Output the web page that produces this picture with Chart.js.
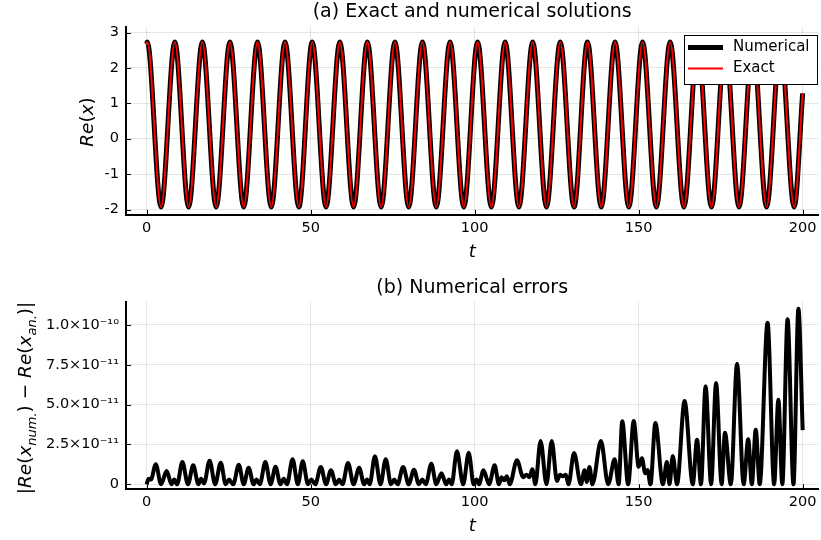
<!DOCTYPE html>
<html>
<head>
<meta charset="utf-8">
<script src="https://cdn.jsdelivr.net/npm/chart.js@4.4.1/dist/chart.umd.min.js"></script>
<style>
  html, body { margin: 0; padding: 0; background: #fff; overflow: hidden; }
  #wrap { position: relative; width: 821px; height: 540px; }
  canvas { position: absolute; left: 0; }
</style>
</head>
<body>
<div id="wrap">
  <canvas id="solCanvas" width="821" height="270" style="top:0"></canvas>
  <canvas id="errCanvas" width="821" height="270" style="top:270px"></canvas>
</div>
<script>
// ---- data -------------------------------------------------------------
// Turning points of Re(x(t)): start, alternating maxima / minima, end value.
// Numerical and exact solutions agree to ~1e-10, so both use these points.
const tRe = [0, 0.2, 4.4, 8.6, 12.8, 17.0, 21.2, 25.4, 29.6, 33.8, 38.0, 42.2,
  46.4, 50.5, 54.7, 58.9, 63.1, 67.3, 71.5, 75.7, 79.9, 84.1, 88.3, 92.5, 96.7,
  100.9, 105.1, 109.3, 113.5, 117.7, 121.9, 126.1, 130.3, 134.4, 138.6, 142.8,
  147.0, 151.2, 155.4, 159.6, 163.8, 168.0, 172.2, 176.4, 180.6, 184.8, 189.0,
  193.2, 197.4, 200];
const reNumerical = [2.68, 2.73, -1.93, 2.73, -1.93, 2.73, -1.93, 2.73, -1.93,
  2.73, -1.93, 2.73, -1.93, 2.73, -1.93, 2.73, -1.93, 2.73, -1.93, 2.73, -1.93,
  2.73, -1.93, 2.73, -1.93, 2.73, -1.93, 2.73, -1.93, 2.73, -1.93, 2.73, -1.93,
  2.73, -1.93, 2.73, -1.93, 2.73, -1.93, 2.73, -1.93, 2.73, -1.93, 2.73, -1.93,
  2.73, -1.93, 2.73, -1.93, 1.28];
const reExact = reNumerical.slice();

// |Re(x_num) - Re(x_an)| in units of 1e-11
const tErr = [0, 0.6, 1.3, 2.8, 4.4, 6.1, 7.6, 8.4, 9.3, 10.9, 12.6, 14.2, 15.8,
  16.6, 17.5, 19.2, 20.9, 22.6, 24.1, 25.1, 26.4, 28.1, 29.6, 31.1, 32.6, 33.5,
  34.5, 36.2, 37.8, 39.3, 40.8, 41.8, 42.8, 44.5, 46.1, 47.6, 49.2, 50.2, 51.4,
  53.1, 54.7, 56.2, 57.7, 58.7, 59.7, 61.4, 63.1, 64.8, 66.3, 67.2, 68.0, 69.6,
  71.3, 72.9, 74.5, 75.5, 76.5, 78.2, 79.9, 81.5, 83.0, 84.0, 85.1, 86.8, 88.3,
  89.9, 91.3, 92.2, 93.0, 94.6, 96.5, 98.2, 99.7, 100.6, 101.3, 102.7, 104.4,
  106.1, 107.4, 108.2, 109.0, 109.8, 110.7, 112.9, 114.8, 115.8, 116.7, 117.6,
  118.5, 120.1, 121.9, 123.5, 125.1, 126.0, 126.9, 127.8, 128.6, 130.3, 132.4,
  133.5, 134.2, 135.0, 135.9, 138.5, 140.7, 142.7, 143.9, 145.0, 146.8, 148.5,
  150.0, 151.0, 152.0, 152.7, 153.6, 155.1, 157.4, 158.6, 159.4, 160.4, 161.7,
  164.0, 166.5, 167.8, 169.0, 170.4, 172.1, 173.6, 175.3, 176.3, 178.1, 180.0,
  182.0, 183.4, 184.5, 185.7, 186.9, 189.3, 191.3, 192.6, 193.8, 195.4, 197.2,
  198.7, 200];
const errE11 = [0, 0.35, 0.3, 1.26, 0, 0.83, 0, 0.3, 0, 1.40, 0, 1.19, 0,
  0.35, 0.05, 1.48, 0, 1.36, 0, 0.3, 0, 1.23, 0, 1.04, 0, 0.3,
  0, 1.40, 0, 1.10, 0, 0.35, 0, 1.57, 0, 1.44, 0, 0.3, 0,
  1.09, 0, 0.88, 0, 0.3, 0, 1.34, 0, 1.04, 0, 0.3, 0, 1.76,
  0, 1.57, 0, 0.3, 0, 1.09, 0, 0.92, 0, 0.3, 0, 1.29, 0,
  0.7, 0, 0.3, 0, 2.07, 0, 1.98, 0, 0.3, 0, 0.88, 0,
  1.19, 0, 0.45, 0.25, 0.5, 0, 1.51, 0.45, 0.6, 0.45, 0.94,
  0, 2.72, 0, 2.72, 0.2, 0.6, 0.5, 0.6, 0, 1.96, 0,
  0.88, 0.15, 1.09, 0, 2.72, 0, 1.57, 0, 3.95, 0, 3.97,
  1.1, 1.63, 0.7, 0.9, 0, 3.85, 0, 1.4, 0, 1.78, 0,
  5.23, 0, 2.80, 0, 6.15, 0, 6.36, 0, 3.24, 0, 7.57,
  0, 2.82, 0, 3.43, 0, 10.14, 0, 5.31, 0, 10.36, 0,
  11.02, 3.4];

// axes
const tTicks = [0, 50, 100, 150, 200];
const tTickLabels = ['0', '50', '100', '150', '200'];
const reTicks = [-2, -1, 0, 1, 2, 3];
const reTickLabels = ['-2', '-1', '0', '1', '2', '3'];
const errTicks = [0, 2.5, 5, 7.5, 10];
const errTickLabels = ['0', '2.5×10⁻¹¹', '5.0×10⁻¹¹', '7.5×10⁻¹¹', '1.0×10⁻¹⁰'];

// ---- drawing helpers --------------------------------------------------
const FONT = "'DejaVu Sans', sans-serif";
const GRID = 'rgba(0,0,0,0.1)';

// rotated axis label built from plain / italic / subscript pieces
function drawRich(ctx, parts, cx, cy) {
  const fontOf = p => (p.it ? 'italic ' : '') + (p.sub ? 13 : 18.5) + 'px ' + FONT;
  let total = 0;
  parts.forEach(p => { ctx.font = fontOf(p); p.w = ctx.measureText(p.t).width; total += p.w; });
  ctx.save();
  ctx.translate(cx, cy);
  ctx.rotate(-Math.PI / 2);
  ctx.textAlign = 'left';
  ctx.textBaseline = 'alphabetic';
  ctx.fillStyle = '#000';
  let x = -total / 2;
  parts.forEach(p => {
    ctx.font = fontOf(p);
    ctx.fillText(p.t, x, p.sub ? 4.5 : 0);
    x += p.w;
  });
  ctx.restore();
}

function drawLegend(chart, box) {
  const ctx = chart.ctx;
  ctx.save();
  ctx.fillStyle = '#fff';
  ctx.strokeStyle = '#000';
  ctx.lineWidth = 1;
  ctx.fillRect(box.x, box.y, box.w, box.h);
  ctx.strokeRect(box.x + 0.5, box.y + 0.5, box.w, box.h);
  ctx.font = '15px ' + FONT;
  ctx.textAlign = 'left';
  ctx.textBaseline = 'middle';
  chart.data.datasets.forEach((ds, i) => {
    const y = box.y + 12.5 + i * 21;
    ctx.strokeStyle = ds.borderColor;
    ctx.lineWidth = ds.borderWidth;
    ctx.beginPath();
    ctx.moveTo(box.x + 4, y);
    ctx.lineTo(box.x + 39, y);
    ctx.stroke();
    ctx.fillStyle = '#000';
    ctx.fillText(ds.label, box.x + 49, y);
  });
  ctx.restore();
}

const decor = {
  id: 'decor',
  afterDraw(chart, args, o) {
    const ctx = chart.ctx, a = chart.chartArea;
    const xs = chart.scales.x, ys = chart.scales.y;
    ctx.save();
    // short inward tick marks
    ctx.strokeStyle = '#000';
    ctx.lineWidth = 1;
    ctx.beginPath();
    xs.ticks.forEach(t => {
      const p = Math.round(xs.getPixelForValue(t.value)) + 0.5;
      ctx.moveTo(p, a.bottom); ctx.lineTo(p, a.bottom - 5);
    });
    ys.ticks.forEach(t => {
      const p = Math.round(ys.getPixelForValue(t.value)) + 0.5;
      ctx.moveTo(a.left, p); ctx.lineTo(a.left + 5, p);
    });
    ctx.stroke();
    // subplot title
    ctx.fillStyle = '#000';
    ctx.font = '19px ' + FONT;
    ctx.textAlign = 'center';
    ctx.textBaseline = 'alphabetic';
    ctx.fillText(o.title, (a.left + a.right) / 2, o.titleY);
    // x guide
    ctx.font = 'italic 18px ' + FONT;
    ctx.textBaseline = 'middle';
    ctx.fillText('t', (a.left + a.right) / 2, a.bottom + 37);
    ctx.restore();
    // y guide
    drawRich(ctx, o.yLabel, o.yLabelX, o.yLabelY);
    if (o.legend) drawLegend(chart, o.legend);
  }
};

function xScale(height) {
  return {
    type: 'linear', min: -6.286, max: 204.77,
    afterBuildTicks: s => { s.ticks = tTicks.map(v => ({ value: v })); },
    afterFit: s => { s.height = height; },
    ticks: {
      callback: v => tTickLabels[tTicks.indexOf(v)],
      font: { family: FONT, size: 14.5 }, color: '#000',
      padding: 4.5, maxRotation: 0, autoSkip: false
    },
    grid: { color: GRID, lineWidth: 1, drawTicks: false },
    border: { display: true, color: '#000', width: 2 }
  };
}
function yScale(min, max, ticks, labels) {
  return {
    type: 'linear', min: min, max: max,
    afterBuildTicks: s => { s.ticks = ticks.map(v => ({ value: v })); },
    afterFit: s => { s.width = 126; },
    ticks: {
      callback: v => labels[ticks.indexOf(v)],
      font: { family: FONT, size: 14.5 }, color: '#000',
      padding: 7, autoSkip: false
    },
    grid: { color: GRID, lineWidth: 1, drawTicks: false },
    border: { display: true, color: '#000', width: 2 }
  };
}

const pts = (xs, ys, k) => xs.map((x, i) => ({ x: x, y: ys[i] * (k || 1) }));

// ---- (a) solutions ----------------------------------------------------
new Chart(document.getElementById('solCanvas'), {
  type: 'line',
  data: {
    datasets: [
      { label: 'Numerical', data: pts(tRe, reNumerical), borderColor: '#000000',
        borderWidth: 5, pointRadius: 0, cubicInterpolationMode: 'monotone', order: 1 },
      { label: 'Exact', data: pts(tRe, reExact), borderColor: '#ff0000',
        borderWidth: 2, pointRadius: 0, cubicInterpolationMode: 'monotone', order: 0 }
    ]
  },
  options: {
    responsive: false, animation: false, devicePixelRatio: 1,
    layout: { padding: { top: 26.7, left: 0, right: 0, bottom: 0 } },
    scales: { x: xScale(55), y: yScale(-2.155, 3.164, reTicks, reTickLabels) },
    plugins: {
      legend: { display: false }, tooltip: { enabled: false },
      decor: {
        title: '(a) Exact and numerical solutions', titleY: 17,
        yLabel: [{ t: 'Re', it: true }, { t: '(' }, { t: 'x', it: true }, { t: ')' }],
        yLabelX: 93, yLabelY: 122,
        legend: { x: 684, y: 35, w: 133, h: 49 }
      }
    }
  },
  plugins: [decor]
});

// ---- (b) errors -------------------------------------------------------
new Chart(document.getElementById('errCanvas'), {
  type: 'line',
  data: {
    datasets: [
      { label: 'error', data: pts(tErr, errE11), borderColor: '#000000',
        borderWidth: 4, pointRadius: 0, cubicInterpolationMode: 'monotone' }
    ]
  },
  options: {
    responsive: false, animation: false, devicePixelRatio: 1,
    layout: { padding: { top: 31.7, left: 0, right: 0, bottom: 0 } },
    scales: { x: xScale(50.7), y: yScale(-0.314, 11.46, errTicks, errTickLabels) },
    plugins: {
      legend: { display: false }, tooltip: { enabled: false },
      decor: {
        title: '(b) Numerical errors', titleY: 22.5,
        yLabel: [{ t: '|' }, { t: 'Re', it: true }, { t: '(' }, { t: 'x', it: true },
                 { t: 'num.', it: true, sub: true }, { t: ')' }, { t: ' − ' },
                 { t: 'Re', it: true }, { t: '(' }, { t: 'x', it: true },
                 { t: 'an.', it: true, sub: true }, { t: ')' }, { t: '|' }],
        yLabelX: 31, yLabelY: 128
      }
    }
  },
  plugins: [decor]
});
</script>
</body>
</html>
